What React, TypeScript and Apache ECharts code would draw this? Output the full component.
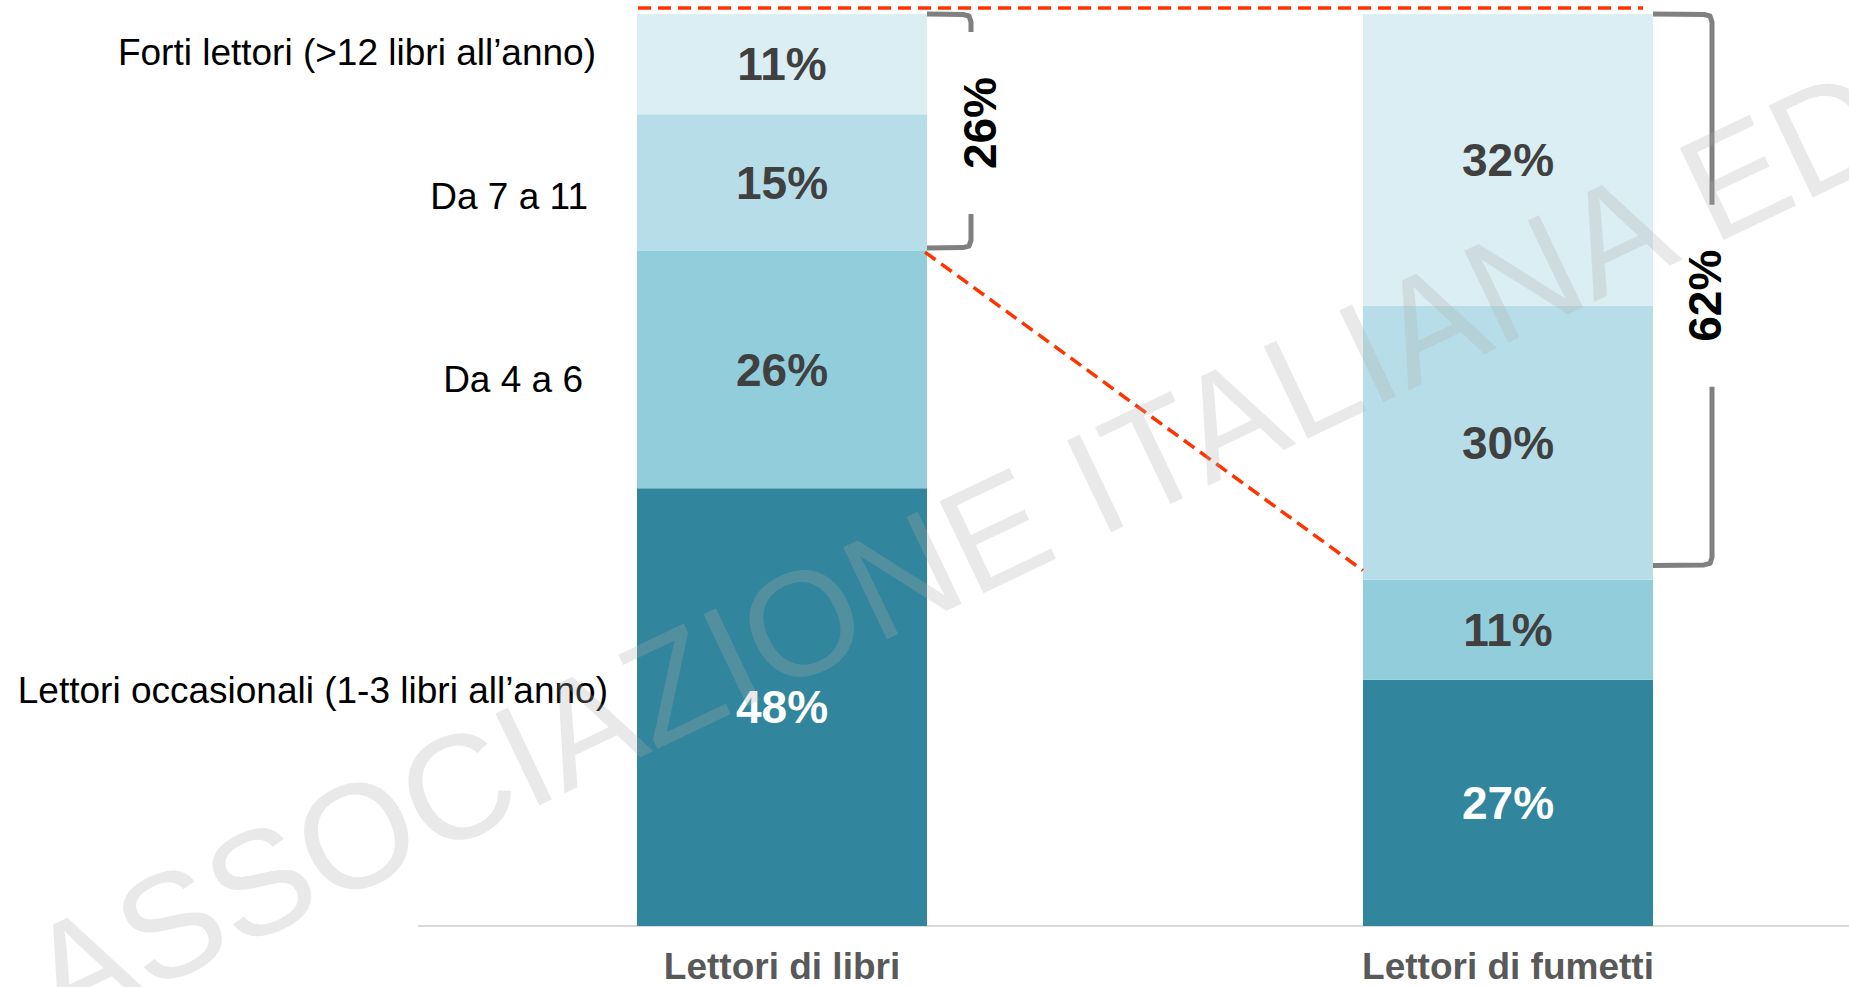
import React, { useEffect, useRef } from "react";
import * as echarts from "echarts";

const categories = ["Lettori di libri", "Lettori di fumetti"];
const seriesNames = [
  "Lettori occasionali (1-3 libri all’anno)",
  "Da 4 a 6",
  "Da 7 a 11",
  "Forti lettori (>12 libri all’anno)",
];
const occasionali = [48, 27];
const da4a6 = [26, 11];
const da7a11 = [15, 30];
const forti = [11, 32];
const bracketLabels = ["26%", "62%"];
const watermarkText = "ASSOCIAZIONE ITALIANA EDITORI";

const FONT = "'Liberation Sans', Arial, Helvetica, sans-serif";
const COLORS = ["#31859C", "#92CDDC", "#B7DEE8", "#DAEEF3"];
const LABEL_COLORS = ["#ffffff", "#404040", "#404040", "#404040"];

// left-hand legend texts: [right x, center y]
const sideLabelPos: [number, number][] = [
  [608, 690],
  [583, 379],
  [588, 196],
  [596, 52],
];

export default function App() {
  const ref = useRef<HTMLDivElement>(null);

  useEffect(() => {
    document.body.style.margin = "0";
    const el = ref.current!;
    const chart = echarts.init(el, null, { renderer: "svg" });
    const seriesData = [occasionali, da4a6, da7a11, forti];

    const option: any = {
      animation: false,
      backgroundColor: "#ffffff",
      grid: { left: 419, right: 0, top: 14, bottom: 61, containLabel: false },
      xAxis: {
        type: "category",
        data: categories,
        axisLine: { show: true, lineStyle: { color: "#d9d9d9", width: 2 } },
        axisTick: { show: false },
        axisLabel: {
          margin: 22,
          fontSize: 37,
          fontWeight: "bold",
          color: "#595959",
          fontFamily: FONT,
        },
      },
      yAxis: { type: "value", min: 0, max: 100, show: false, splitLine: { show: false } },
      series: seriesData.map((d, i) => ({
        name: seriesNames[i],
        type: "bar",
        stack: "tot",
        barWidth: 290,
        data: d,
        itemStyle: { color: COLORS[i] },
        label: {
          show: true,
          position: "inside",
          formatter: "{c}%",
          fontSize: 46,
          fontWeight: "bold",
          color: LABEL_COLORS[i],
          fontFamily: FONT,
        },
      })),
    };
    chart.setOption(option);

    const px = (ci: number, v: number) =>
      chart.convertToPixel({ gridIndex: 0 }, [ci, v]) as number[];
    const half = 145;

    const graphics: any[] = [];

    // side legend texts
    sideLabelPos.forEach(([x, y], i) => {
      graphics.push({
        type: "text",
        x,
        y,
        silent: true,
        z: 50,
        style: {
          text: seriesNames[i],
          fontSize: 37,
          fontFamily: FONT,
          fill: "#000000",
          align: "right",
          verticalAlign: "middle",
          textAlign: "right",
          textVerticalAlign: "middle",
        },
      });
    });

    // brackets
    const bracketCfg = [
      { ci: 0, dx: 44, botOff: -3, textOff: -8, textDx: 9 },
      { ci: 1, dx: 59, botOff: -14, textOff: 6, textDx: -7 },
    ];
    bracketCfg.forEach((b, i) => {
      const topVal = 100;
      const botVal = 100 - (forti[b.ci] + da7a11[b.ci]);
      const xr = px(b.ci, topVal)[0] + half;
      const xv = xr + b.dx;
      const yTop = px(b.ci, topVal)[1];
      const yBot = px(b.ci, botVal)[1] + b.botOff;
      const ty = (yTop + yBot) / 2 + b.textOff;
      const gap = 91;
      const st = { stroke: "#808080", lineWidth: 5, fill: null, lineJoin: "round" };
      graphics.push({
        type: "polyline",
        silent: true,
        z: 40,
        shape: {
          points: [
            [xr, yTop],
            [xv - 8, yTop + 0.5],
            [xv - 2, yTop + 2],
            [xv, yTop + 8],
            [xv, ty - gap],
          ],
        },
        style: st,
      });
      graphics.push({
        type: "polyline",
        silent: true,
        z: 40,
        shape: {
          points: [
            [xv, ty + gap],
            [xv, yBot - 8],
            [xv - 2, yBot - 2],
            [xv - 8, yBot - 0.5],
            [xr, yBot],
          ],
        },
        style: st,
      });
      graphics.push({
        type: "text",
        x: xv + b.textDx,
        y: ty,
        rotation: Math.PI / 2,
        silent: true,
        z: 50,
        style: {
          text: bracketLabels[i],
          fontSize: 46,
          fontWeight: "bold",
          fontFamily: FONT,
          fill: "#000000",
          align: "center",
          verticalAlign: "middle",
          textAlign: "center",
          textVerticalAlign: "middle",
        },
      });
    });

    // red dashed lines
    const red = { stroke: "#FF3300", lineWidth: 3.5, lineDash: [13, 7] };
    const topY = px(0, 100)[1] - 6;
    graphics.push({
      type: "line",
      silent: true,
      z: 45,
      shape: { x1: px(0, 100)[0] - half + 1, y1: topY, x2: px(1, 100)[0] + half - 10, y2: topY },
      style: red,
    });
    const leftBreak = 100 - (forti[0] + da7a11[0]);
    const rightBreak = occasionali[1] + da4a6[1];
    graphics.push({
      type: "line",
      silent: true,
      z: 45,
      shape: {
        x1: px(0, leftBreak)[0] + half - 2,
        y1: px(0, leftBreak)[1] + 1,
        x2: px(1, rightBreak)[0] - half,
        y2: px(1, rightBreak)[1] - 9,
      },
      style: red,
    });

    // watermark
    graphics.push({
      type: "text",
      x: 37,
      y: 988,
      rotation: (25.5 * Math.PI) / 180,
      silent: true,
      z: 100,
      style: {
        text: watermarkText,
        fontSize: 148,
        fontFamily: FONT,
        fill: "rgba(172,172,172,0.27)",
        align: "left",
        verticalAlign: "middle",
        textAlign: "left",
        textVerticalAlign: "middle",
      },
    });

    chart.setOption({ graphic: graphics });

    return () => chart.dispose();
  }, []);

  return (
    <div
      style={{
        position: "fixed",
        left: 0,
        top: 0,
        width: 1849,
        height: 987,
        overflow: "hidden",
        background: "#fff",
      }}
    >
      <div ref={ref} style={{ width: 1871, height: 987 }} />
    </div>
  );
}
